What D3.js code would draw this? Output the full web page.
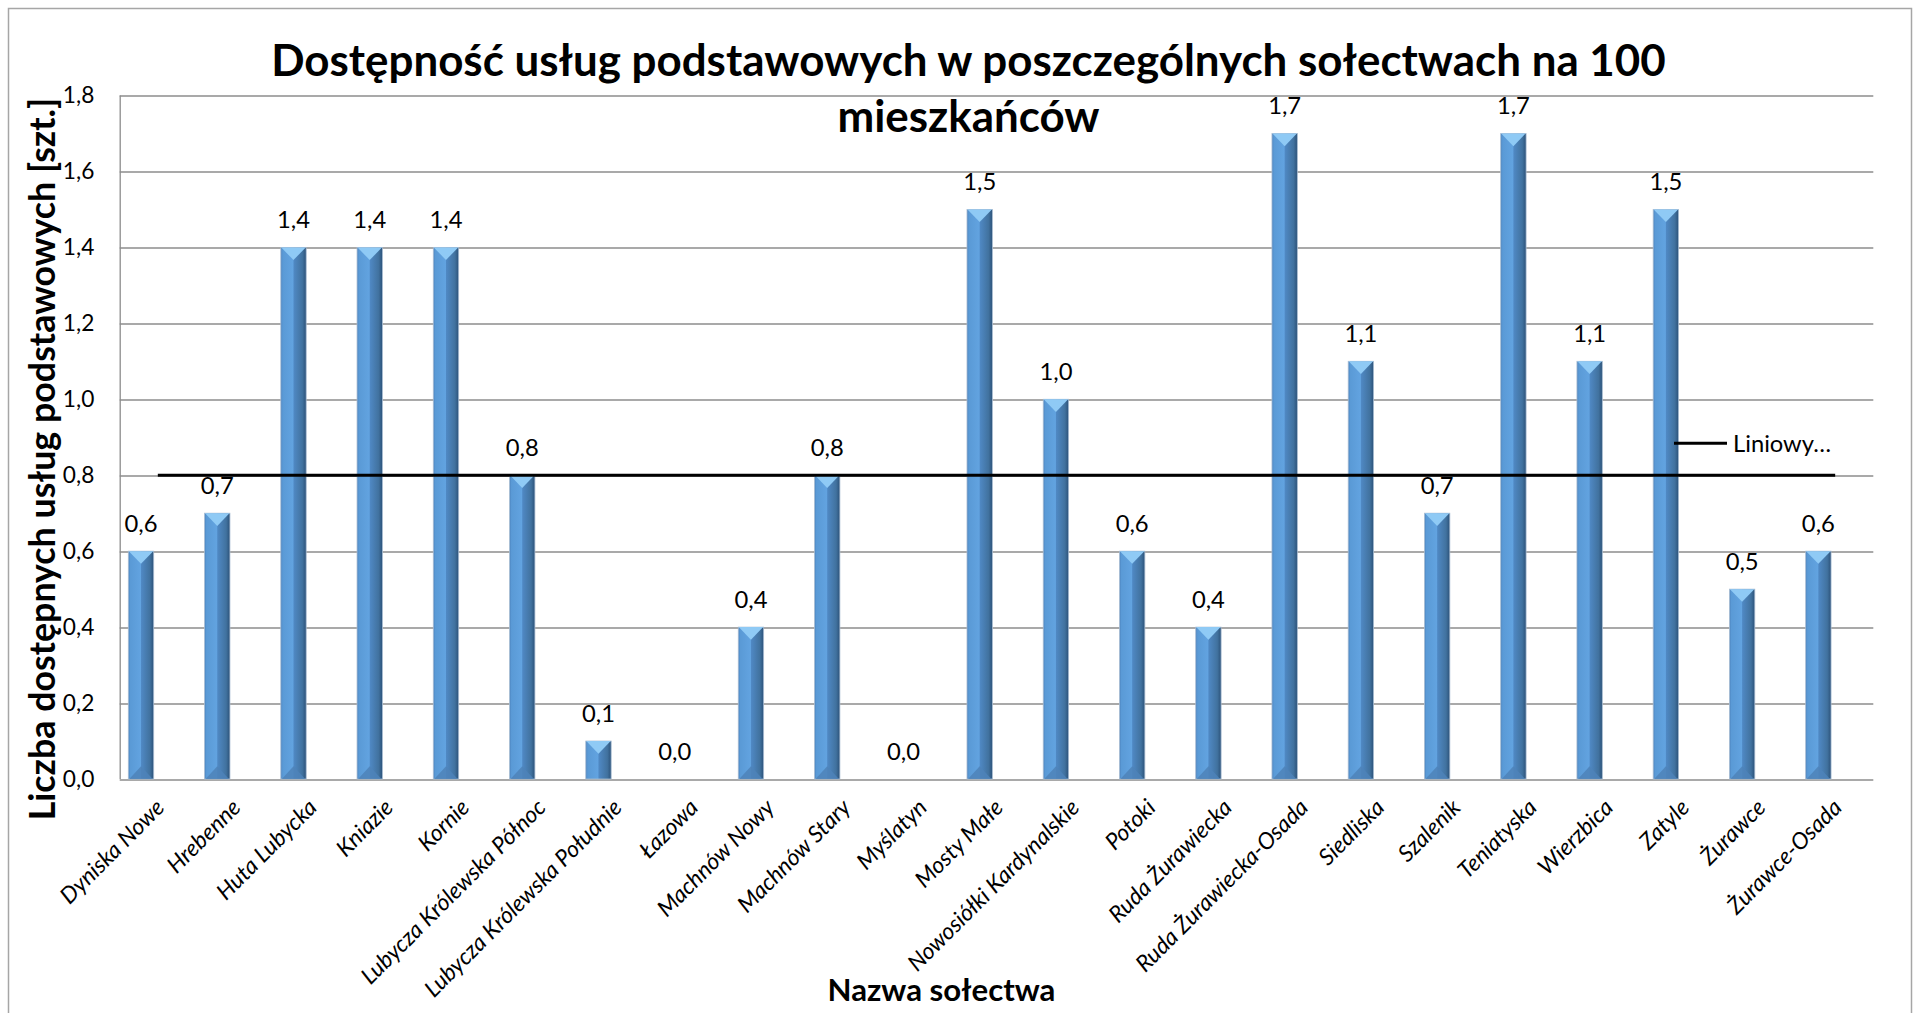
<!DOCTYPE html>
<html>
<head>
<meta charset="utf-8">
<script src="https://cdn.jsdelivr.net/npm/d3@7/dist/d3.min.js"></script>
<style>
  body { margin: 0; background: #fff; }
  text { font-family: Lato, "Open Sans", sans-serif; fill: #000; }
  .title, .axisTitle { font-weight: bold; }
  .xlab { font-style: italic; }
</style>
</head>
<body>
<div id="chart"></div>
<script>
// data
var categories = ["Dyniska Nowe", "Hrebenne", "Huta Lubycka", "Kniazie", "Kornie",
    "Lubycza Królewska Północ", "Lubycza Królewska Południe", "Łazowa", "Machnów Nowy",
    "Machnów Stary", "Myślatyn", "Mosty Małe", "Nowosiółki Kardynalskie", "Potoki",
    "Ruda Żurawiecka", "Ruda Żurawiecka-Osada", "Siedliska", "Szalenik", "Teniatyska",
    "Wierzbica", "Zatyle", "Żurawce", "Żurawce-Osada"];
var values = [0.6, 0.7, 1.4, 1.4, 1.4, 0.8, 0.1, 0.0, 0.4, 0.8, 0.0, 1.5, 1.0, 0.6, 0.4,
    1.7, 1.1, 0.7, 1.7, 1.1, 1.5, 0.5, 0.6];
var trendValues = [0.8, 0.8]; // start / end of linear trend line
var yTicks = [0, 0.2, 0.4, 0.6, 0.8, 1.0, 1.2, 1.4, 1.6, 1.8];
var titleLines = ["Dostępność usług podstawowych w poszczególnych sołectwach na 100", "mieszkańców"];
var yTitle = "Liczba dostępnych usług podstawowych [szt.]";
var xTitle = "Nazwa sołectwa";
var legendLabel = "Liniowy…";

var W = 1914, H = 1013;
var margin = { top: 95.5, right: 40.7, bottom: 234, left: 119.7 };
var width = W - margin.left - margin.right;
var height = H - margin.top - margin.bottom;

var svg = d3.select('#chart').append('svg')
    .attr('width', W)
    .attr('height', H);

var fmt = function(v) { return d3.format(".1f")(v).replace(".", ","); };

// pick a font size so that a string gets a given width
function fitSize(str, cls, target) {
    var t = svg.append('text').attr('class', cls).style('font-size', '100px').text(str);
    var w = t.node().getComputedTextLength();
    t.remove();
    return 100 * target / w;
}

// gradient for the bevelled bars
var defs = svg.append('defs');
var grad = defs.append('linearGradient').attr('id', 'barGrad')
    .attr('x1', 0).attr('x2', 1).attr('y1', 0).attr('y2', 0);
[[0, '#4d84bf'], [0.08, '#5a9ad6'], [0.48, '#62a3e0'], [0.52, '#4f88c3'],
 [0.85, '#41729f'], [1, '#2c5279']].forEach(function(s) {
    grad.append('stop').attr('offset', s[0]).attr('stop-color', s[1]);
});

// outer frame
svg.append('path')
    .attr('d', 'M8.5,1013 V8.5 H1911.5 V1013')
    .attr('fill', 'none')
    .attr('stroke', '#a6a6a6')
    .attr('stroke-width', 1.5);

var g = svg.append('g')
    .attr('transform', 'translate(' + margin.left + ',' + margin.top + ')');

var x = d3.scaleBand()
    .domain(categories)
    .range([0, width]);

// two slots per category, only the first one holds a visible column
var slot = d3.scaleBand()
    .domain([0, 1])
    .range([0, x.bandwidth()])
    .paddingInner(0.245)
    .paddingOuter(0.256);

var y = d3.scaleLinear()
    .domain([0, 1.8])
    .range([height, 0]);

// grid
g.append('g')
    .selectAll('line')
    .data(yTicks)
    .enter().append('line')
    .attr('x1', 0)
    .attr('x2', width)
    .attr('y1', function(d) { return Math.round(y(d)) + 0.5; })
    .attr('y2', function(d) { return Math.round(y(d)) + 0.5; })
    .attr('stroke', '#8c8c8c')
    .attr('stroke-width', 1.3);

g.append('line')
    .attr('x1', 0.5).attr('x2', 0.5)
    .attr('y1', 0).attr('y2', height)
    .attr('stroke', '#8c8c8c')
    .attr('stroke-width', 1.3);

// y tick labels
var tickSize = fitSize("1,8", "tick", 31.5);
g.append('g')
    .selectAll('text')
    .data(yTicks)
    .enter().append('text')
    .attr('x', -25.4)
    .attr('y', function(d) { return y(d); })
    .attr('dy', '0.35em')
    .attr('text-anchor', 'end')
    .style('font-size', tickSize + 'px')
    .text(fmt);

// bars
var bw = slot.bandwidth();
var bars = g.append('g')
    .selectAll('g')
    .data(values.map(function(v, i) { return { name: categories[i], value: v }; }))
    .enter().append('g')
    .attr('transform', function(d) { return 'translate(' + (x(d.name) + slot(0)) + ',0)'; });

bars.filter(function(d) { return d.value > 0; })
    .append('rect')
    .attr('x', 0)
    .attr('width', bw)
    .attr('y', function(d) { return y(d.value); })
    .attr('height', function(d) { return height - y(d.value); })
    .attr('fill', 'url(#barGrad)')
    .attr('stroke', '#a9bdd3')
    .attr('stroke-width', 0.8);

// top bevel
bars.filter(function(d) { return d.value > 0; })
    .append('path')
    .attr('d', function(d) {
        var t = y(d.value), dep = Math.min(bw / 2, height - t);
        return 'M0.5,' + t + ' L' + (bw - 0.5) + ',' + t + ' L' + (bw / 2) + ',' + (t + dep) + 'Z';
    })
    .attr('fill', '#8fcaf5');

// bottom bevel
bars.filter(function(d) { return d.value > 0.15; })
    .append('path')
    .attr('d', function(d) {
        return 'M1,' + height + ' L' + (bw - 1) + ',' + height + ' L' + (bw / 2) + ',' + (height - bw / 2) + 'Z';
    })
    .attr('fill', '#4e82b8')
    .attr('opacity', 0.85);

// data labels
var labSize = fitSize("0,6", "lab", 33);
bars.append('text')
    .attr('x', bw / 2)
    .attr('y', function(d) { return y(d.value) - 19; })
    .attr('text-anchor', 'middle')
    .style('font-size', labSize + 'px')
    .text(function(d) { return fmt(d.value); });

// trend line
g.append('line')
    .attr('x1', x(categories[0]) + x.bandwidth() / 2)
    .attr('x2', x(categories[categories.length - 1]) + x.bandwidth() / 2)
    .attr('y1', y(trendValues[0]))
    .attr('y2', y(trendValues[1]))
    .attr('stroke', '#000')
    .attr('stroke-width', 3);

// x labels
var xlabSize = fitSize("Lubycza Królewska Południe", "xlab", 268);
g.append('g')
    .selectAll('text')
    .data(categories)
    .enter().append('text')
    .attr('class', 'xlab')
    .attr('text-anchor', 'end')
    .attr('transform', function(d) {
        return 'translate(' + (x(d) + x.bandwidth() / 2 + 8) + ',' + (height + 30) + ') rotate(-45)';
    })
    .style('font-size', xlabSize + 'px')
    .text(function(d) { return d; });

// legend
svg.append('line')
    .attr('x1', 1674).attr('x2', 1727)
    .attr('y1', 443.3).attr('y2', 443.3)
    .attr('stroke', '#000')
    .attr('stroke-width', 3);
svg.append('text')
    .attr('x', 1733)
    .attr('y', 443.3)
    .attr('dy', '0.35em')
    .style('font-size', fitSize(legendLabel, "leg", 98) + 'px')
    .text(legendLabel);

// title
var titleSize = fitSize(titleLines[0], "title", 1395);
svg.selectAll('.title')
    .data(titleLines)
    .enter().append('text')
    .attr('class', 'title')
    .attr('x', 968.5)
    .attr('y', function(d, i) { return 76 + i * 56; })
    .attr('text-anchor', 'middle')
    .style('font-size', titleSize + 'px')
    .text(function(d) { return d; });

// axis titles
svg.append('text')
    .attr('class', 'axisTitle')
    .attr('text-anchor', 'middle')
    .attr('transform', 'translate(55,459) rotate(-90)')
    .style('font-size', fitSize(yTitle, "axisTitle", 723) + 'px')
    .text(yTitle);

svg.append('text')
    .attr('class', 'axisTitle')
    .attr('text-anchor', 'middle')
    .attr('x', 941.5)
    .attr('y', 1001)
    .style('font-size', fitSize(xTitle, "axisTitle", 228) + 'px')
    .text(xTitle);
</script>
</body>
</html>
